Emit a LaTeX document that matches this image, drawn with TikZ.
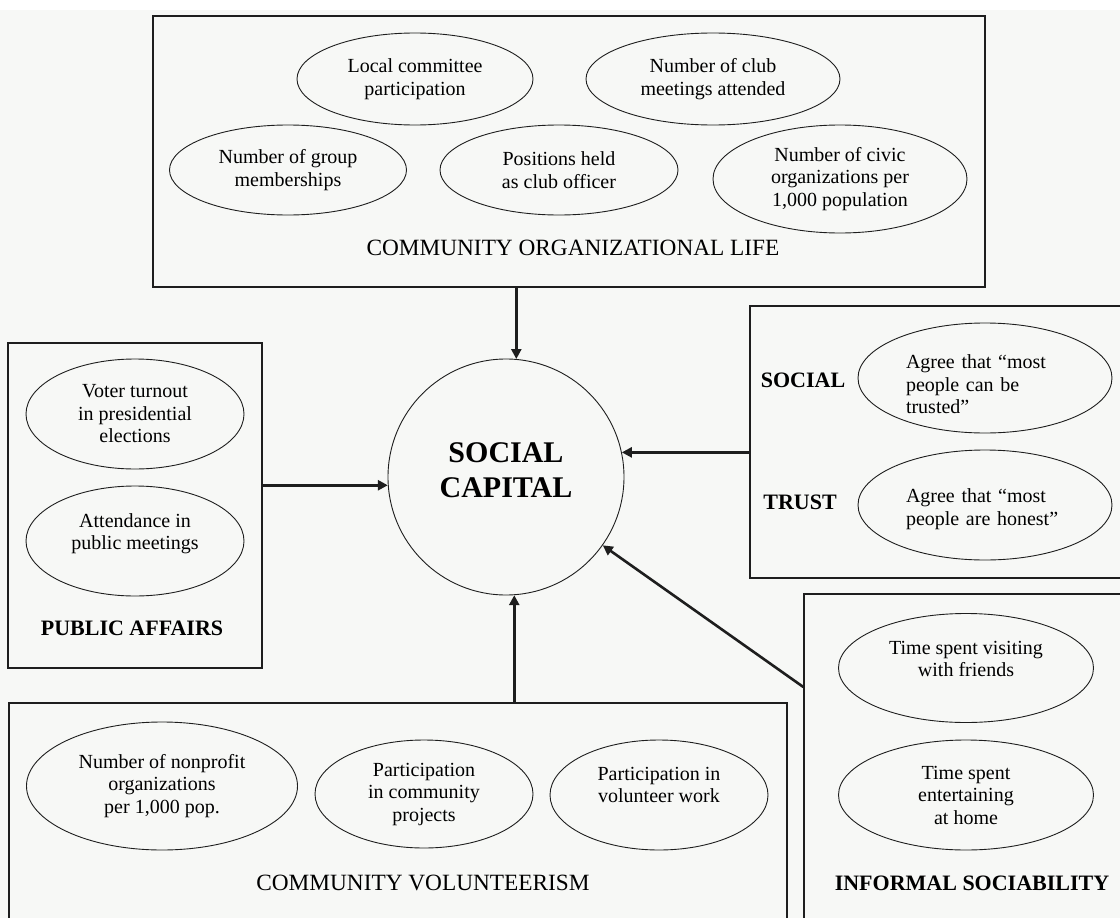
\documentclass[tikz,border=0pt]{standalone}
\usepackage{fontspec}
\setmainfont{Liberation Serif}
\usetikzlibrary{arrows.meta,shapes.geometric}

\definecolor{paper}{RGB}{247,248,246}
\definecolor{ink}{RGB}{30,30,30}

\begin{document}
\begin{tikzpicture}[x=1pt, y=-1pt,
  box/.style={draw=ink, line width=1.3pt, rectangle, inner sep=0pt},
  item/.style={draw=ink, line width=0.9pt, ellipse, inner sep=0pt, align=center,
    font=\fontsize{20}{22.5}\selectfont},
  head/.style={font=\fontsize{23.3}{26}\selectfont, inner sep=0pt},
  bhead/.style={font=\fontsize{22}{26}\selectfont\bfseries, inner sep=0pt},
  arr/.style={draw=ink, line width=2.6pt, -{Triangle[length=10pt, width=10pt]}}]
  \useasboundingbox (0,0) rectangle (1120,918);
  \fill[paper] (0,10) rectangle (1120,918);
  % Community organizational life
  \node[box, minimum width=832, minimum height=271] (col) at (569,151.5) {};
  \node[item, minimum width=236, minimum height=92] (committee) at (415,79) {Local committee\\participation};
  \node[item, minimum width=254, minimum height=92] (meetings) at (713,79) {Number of club\\meetings attended};
  \node[item, minimum width=237, minimum height=90] (groups) at (288,170) {Number of group\\memberships};
  \node[item, minimum width=238, minimum height=90] (officer) at (559,170) {Positions held\\as club officer};
  \node[item, minimum width=254, minimum height=108] (civic) at (840,179) {Number of civic\\organizations per\\1,000 population};
  \node[head] (coltitle) at (573,248) {COMMUNITY ORGANIZATIONAL LIFE};
  % Public affairs
  \node[box, minimum width=254, minimum height=325] (pa) at (135,505.5) {};
  \node[item, minimum width=218, minimum height=110] (voter) at (135,414) {Voter turnout\\in presidential\\elections};
  \node[item, text depth=18.4pt, minimum width=218, minimum height=110] (attend) at (135,541) {Attendance in\\public meetings};
  \node[bhead] (patitle) at (132,628) {PUBLIC AFFAIRS};
  % Social trust
  \node[box, minimum width=375, minimum height=272] (st) at (937.5,442) {};
  \node[item, align=left, text width=158pt, text height=27pt, minimum width=254, minimum height=110] (trusted) at (985,378) {Agree that “most\\people can be\\trusted”};
  \node[item, align=left, text width=158pt, text depth=18.4pt, minimum width=254, minimum height=110] (honest) at (985,505) {Agree that “most\\people are honest”};
  \node[bhead] (social) at (803,380) {SOCIAL};
  \node[bhead] (trust) at (800,502) {TRUST};
  % Informal sociability
  \node[box, minimum width=321, minimum height=331] (is) at (964.5,759.5) {};
  \node[item, text depth=18.4pt, minimum width=255, minimum height=109] (visiting) at (966,668) {Time spent visiting\\with friends};
  \node[item, minimum width=255, minimum height=110] (home) at (966,795) {Time spent\\entertaining\\at home};
  \node[bhead] (istitle) at (972,883) {INFORMAL SOCIABILITY};
  % Community volunteerism
  \node[box, minimum width=778, minimum height=222] (cv) at (398,814) {};
  \node[item, minimum width=271, minimum height=128] (nonprofit) at (162,786) {Number of nonprofit\\organizations\\per 1,000 pop.};
  \node[item, minimum width=218, minimum height=108] (projects) at (424,794) {Participation\\in community\\projects};
  \node[item, text depth=20.4pt, minimum width=218, minimum height=110] (volunteer) at (659,795) {Participation in\\volunteer work};
  \node[head] (cvtitle) at (423,883) {COMMUNITY VOLUNTEERISM};
  % Social capital
  \node[draw=ink, line width=0.9pt, circle, minimum size=236, inner sep=0pt] (cap) at (506,477) {};
  \node[align=center, inner sep=0pt, font=\fontsize{30}{35}\selectfont\bfseries]
    (captext) at ([yshift=7pt]cap.center) {SOCIAL\\CAPITAL};
  % Arrows into the circle
  \draw[arr] (col.south -| cap.85.6) -- (cap.85.6);
  \draw[arr] (cv.north -| cap.274.4) -- (cap.274.4);
  \draw[arr] (pa.east |- cap.184.9) -- (cap.184.9);
  \draw[arr] (st.west |- cap.12.7) -- (cap.12.7);
  \draw[arr] ([yshift=72.5pt]is.west) -- (cap);
\end{tikzpicture}
\end{document}
